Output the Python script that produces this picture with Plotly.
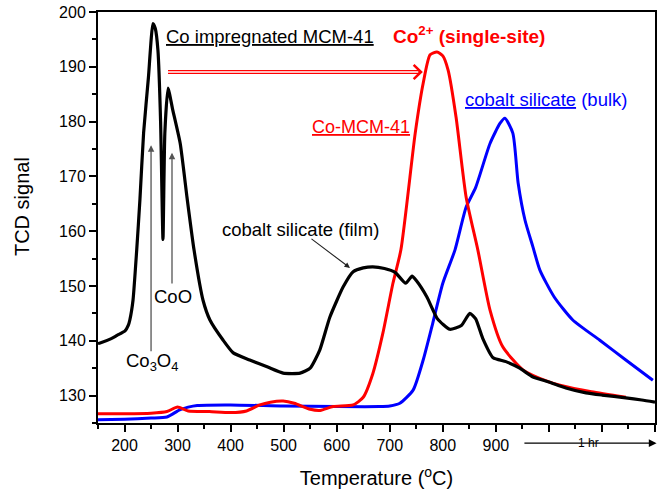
import plotly.graph_objects as go

# ---- data ----
black_x = [150,154,175,186,201,207,210,216,223,229,236,245,253.6,258,263,268,272.5,276,282,291,305,318,331,348,361,386,405,436,470,499,531,550,568,587,612,631,650,668,690,710,730,742,750,770,790,813,835,851,862,875,895,919,945,970,1000,1032,1070,1100,1145,1175,1200]
black_y = [139.5,139.6,140.4,141,141.8,142.8,143.8,147.4,156.6,165.7,178,188,197.9,197,193,180,158.5,177.9,186.1,182.1,176,166,156.6,147.4,143.8,140.1,137.8,136.5,135.2,134.1,134.1,135,138.3,144.3,149.8,152.6,153.3,153.5,153.2,152.5,150.5,151.8,151,148,144,142.1,142.8,145,144,140.5,136.9,136.2,135,133.4,132.5,131.4,130.5,130.1,129.6,129.2,128.8]

red_x = [150,200,250,280,300,320,360,400,430,455,475,499,520,550,569,593,631,650,668,687,706,721,748,763,776,789,800,810,825,844,866,889,913,951,1000,1021,1080,1145]
red_y = [126.7,126.7,126.8,127.1,127.9,127.2,127.1,126.9,127.2,128.3,128.8,129,128.6,127.5,127.3,128,128.3,129.7,134,141.4,150.5,156.6,177.9,187,192.2,192.7,192,189.4,180.8,166.2,156.6,145.6,138.9,134.7,132.5,131.9,130.7,129.7]

blue_x = [150,200,250,280,304,320,337,400,500,600,680,700,719,744,763,781,800,823,844,862,889,908,917,932,942,955,970,983,1010,1045,1096,1145,1196]
blue_y = [125.6,125.7,125.9,126.1,127.4,127.9,128.2,128.3,128.1,128,128,128.1,128.6,131,136.5,143.2,150.5,156.6,164.4,168,176,179.7,180.6,177.9,168.8,162,157.1,152.9,148,143.8,140.1,136.5,132.8]

x_tickvals = [200,300,400,500,600,700,800,900,1000,1100,1200]
x_ticktext = ["200","300","400","500","600","700","800","900","","",""]
y_tickvals = [130,140,150,160,170,180,190,200]

FONT = "Liberation Sans, Arial, sans-serif"

fig = go.Figure()
fig.add_trace(go.Scatter(x=blue_x, y=blue_y, mode="lines", line=dict(color="#0000ff", width=3, shape="spline", smoothing=0.6), showlegend=False))
fig.add_trace(go.Scatter(x=red_x, y=red_y, mode="lines", line=dict(color="#ff0000", width=3, shape="spline", smoothing=0.6), showlegend=False))
fig.add_trace(go.Scatter(x=black_x, y=black_y, mode="lines", line=dict(color="#000000", width=3.2, shape="spline", smoothing=0.5), showlegend=False))

shapes = [
    # red double arrow
    dict(type="line", xref="x", yref="y", x0=282, y0=189.05, x1=757, y1=189.05, line=dict(color="#ff0000", width=4)),
    dict(type="line", xref="x", yref="y", x0=282, y0=189.05, x1=754, y1=189.05, line=dict(color="#ffffff", width=1.3)),
    dict(type="path", xref="x", yref="y", path="M 745,190.35 L 759,189.05 L 745,187.75", line=dict(color="#ff0000", width=2.5)),
]

anns = [
    dict(x=474, y=195.6, text="<u>Co impregnated MCM-41</u>", font=dict(size=18.5, color="black")),
    dict(x=849, y=195.8, text="<b>Co<sup>2+</sup> (single-site)</b>", font=dict(size=19, color="#ff0000")),
    dict(x=646, y=179, text="<u>Co-MCM-41</u>", font=dict(size=18, color="#ff0000")),
    dict(x=994, y=184, text="<u>cobalt silicate</u> (bulk)", font=dict(size=18.5, color="#0000ff")),
    dict(x=531, y=160.4, text="cobalt silicate (film)", font=dict(size=18.5, color="black")),
    dict(x=291, y=148, text="CoO", font=dict(size=18.5, color="black")),
    dict(x=252, y=136.1, text="Co<sub>3</sub>O<sub>4</sub>", font=dict(size=18.5, color="black")),
]
anns = [dict(a, xref="x", yref="y", showarrow=False) for a in anns]

# arrows
anns += [
    dict(x=250, y=175.7, ax=250, ay=137.8, xref="x", yref="y", axref="x", ayref="y", text="",
         showarrow=True, arrowhead=2, arrowsize=1, arrowwidth=1.3, arrowcolor="#555555"),
    dict(x=289.5, y=174.3, ax=289.5, ay=150.2, xref="x", yref="y", axref="x", ayref="y", text="",
         showarrow=True, arrowhead=2, arrowsize=1, arrowwidth=1.3, arrowcolor="#555555"),
    dict(x=625, y=153.3, ax=549.6, ay=158.8, xref="x", yref="y", axref="x", ayref="y", text="",
         showarrow=True, arrowhead=2, arrowsize=1, arrowwidth=1.1, arrowcolor="#222222"),
    dict(x=1203, y=-0.049, ax=951, ay=0, xref="x", yref="paper", axref="x", ayref="pixel", text="",
         showarrow=True, arrowhead=2, arrowsize=1.3, arrowwidth=1.2, arrowcolor="#000000"),
    dict(x=1074, y=-0.071, xref="x", yref="paper", text="1 hr", showarrow=False, font=dict(size=12, color="black")),
    # y-axis title
    dict(x=-0.1364, y=0.5255, xref="paper", yref="paper", xanchor="center", yanchor="middle",
         text="TCD signal", textangle=-90, showarrow=False, font=dict(size=20, color="black")),
]

fig.update_layout(
    width=666, height=492,
    margin=dict(l=98, r=11, t=12, b=69),
    paper_bgcolor="white", plot_bgcolor="white",
    font=dict(family=FONT, color="black"),
    shapes=shapes, annotations=anns,
    xaxis=dict(range=[150, 1200], tickvals=x_tickvals, ticktext=x_ticktext,
               ticks="outside", ticklen=7, tickwidth=1.5, tickcolor="black",
               minor=dict(ticks="outside", tick0=150, dtick=50, ticklen=4, tickwidth=1.5, tickcolor="black"),
               showline=True, linecolor="black", linewidth=2, mirror=True, showgrid=False, zeroline=False,
               tickfont=dict(size=16), automargin=False,
               title=dict(text="Temperature (<sup>o</sup>C)", font=dict(size=20), standoff=18)),
    yaxis=dict(range=[125, 200], tickvals=y_tickvals,
               ticks="outside", ticklen=7, tickwidth=1.5, tickcolor="black",
               minor=dict(ticks="outside", tick0=125, dtick=5, ticklen=4, tickwidth=1.5, tickcolor="black"),
               showline=True, linecolor="black", linewidth=2, mirror=True, showgrid=False, zeroline=False,
               tickfont=dict(size=16), automargin=False),
)

fig.write_html("out.html", config={"displayModeBar": False},
               post_script="document.body.style.margin='0';document.body.style.overflow='hidden';")
